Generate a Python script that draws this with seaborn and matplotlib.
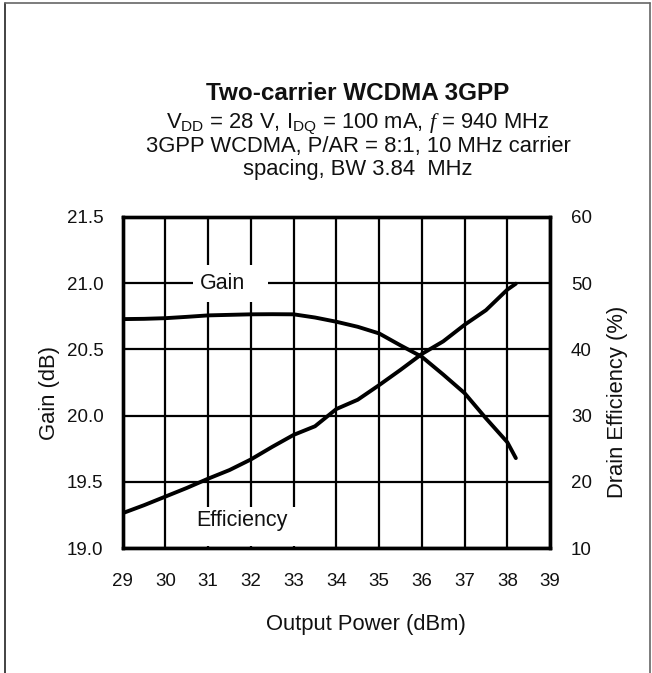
#!/usr/bin/env python3
"""
Two-carrier WCDMA 3GPP: gain and drain efficiency vs output power
"""

import numpy as np
import pandas as pd
import matplotlib
matplotlib.use("Agg")
import matplotlib.pyplot as plt
from matplotlib.lines import Line2D
import seaborn as sns

# Values
power_dbm = [29.0, 29.5, 30.0, 30.5, 31.0, 31.5, 32.0, 32.5, 33.0, 33.5,
             34.0, 34.5, 35.0, 35.5, 36.0, 36.5, 37.0, 37.5, 38.0, 38.2]
gain_db = [20.728, 20.730, 20.735, 20.745, 20.756, 20.760, 20.764, 20.765, 20.764, 20.740,
           20.708, 20.670, 20.620, 20.530, 20.444, 20.310, 20.170, 19.980, 19.800, 19.680]
efficiency_pct = [15.3, 16.5, 17.8, 19.1, 20.5, 21.8, 23.4, 25.3, 27.1, 28.4,
                  31.0, 32.4, 34.6, 36.9, 39.3, 41.2, 43.7, 45.9, 49.0, 49.9]

x_ticks = [29, 30, 31, 32, 33, 34, 35, 36, 37, 38, 39]
gain_ticks = [19.0, 19.5, 20.0, 20.5, 21.0, 21.5]
eff_ticks = [10, 20, 30, 40, 50, 60]

title = "Two-carrier WCDMA 3GPP"
subtitle = [
    r"V$_{\mathregular{DD}}$ = 28 V, I$_{\mathregular{DQ}}$ = 100 mA, $f$ = 940 MHz",
    "3GPP WCDMA, P/AR = 8:1, 10 MHz carrier",
    "spacing, BW 3.84  MHz",
]

df = pd.DataFrame({"power": power_dbm, "gain": gain_db, "eff": efficiency_pct})

sns.set_theme(style="white")
plt.rcParams["font.family"] = ["Liberation Sans", "DejaVu Sans"]
plt.rcParams["mathtext.fontset"] = "custom"
plt.rcParams["mathtext.rm"] = "Liberation Sans"
plt.rcParams["mathtext.it"] = "Liberation Serif:italic"

fig = plt.figure(figsize=(6.52, 6.73), dpi=100)
ax = fig.add_axes([0.1882, 0.1853, 0.6554, 0.4927])
ax2 = ax.twinx()

# grid
ax.set_xlim(29, 39)
ax.set_ylim(19.0, 21.5)
ax.set_xticks(x_ticks)
ax.set_yticks(gain_ticks)
ax.set_xticklabels([str(t) for t in x_ticks])
ax.set_yticklabels([f"{t:.1f}" for t in gain_ticks])
ax.grid(True, color="black", linewidth=1.6)
ax.set_axisbelow(True)
ax2.set_ylim(10, 60)
ax2.set_yticks(eff_ticks)
ax2.set_yticklabels([str(t) for t in eff_ticks])
ax2.grid(False)

for a in (ax, ax2):
    for s in a.spines.values():
        s.set_linewidth(2.4)
        s.set_color("black")

ax.tick_params(axis="x", length=0, pad=18, labelsize=13.5, colors="#111111")
ax.tick_params(axis="y", length=0, pad=14, labelsize=13.5, colors="#111111")
ax2.tick_params(axis="y", length=0, pad=15, labelsize=13.5, colors="#111111")

# label boxes that blank out the grid
ax.add_patch(plt.Rectangle((30.65, 20.86), 1.76, 0.275, facecolor="white",
                           edgecolor="none", zorder=1.5))
ax.add_patch(plt.Rectangle((30.45, 19.02), 2.6, 0.29, facecolor="white",
                           edgecolor="none", zorder=1.5))

sns.lineplot(data=df, x="power", y="gain", ax=ax, color="black",
             linewidth=2.8, zorder=3)
sns.lineplot(data=df, x="power", y="eff", ax=ax2, color="black",
             linewidth=2.8, zorder=3)
ax.set_xlabel("")
ax.set_ylabel("")
ax2.set_ylabel("")

ax.text(31.34, 21.0, "Gain", fontsize=15.5, ha="center", va="center",
        color="#111111", zorder=4)
ax.text(31.78, 19.207, "Efficiency", fontsize=15.5, ha="center", va="center",
        color="#111111", zorder=4)

# titles and axis labels
cx = 0.549
fig.text(cx, 0.8614, title, fontsize=17.5, fontweight="bold", ha="center",
         va="center", color="#111111")
for yy, line in zip([0.8168, 0.782, 0.7474], subtitle):
    fig.text(cx, yy, line, fontsize=15.8, ha="center", va="center", color="#111111")

fig.text(0.5613, 0.0728, "Output Power (dBm)", fontsize=15.8, ha="center",
         va="center", color="#111111")
fig.text(50 / 652, 1 - 393.5 / 673, "Gain (dB)", fontsize=15.8, rotation=90,
         ha="center", va="center", color="#111111")
fig.text(617 / 652, 1 - 402 / 673, "Drain Efficiency (%)", fontsize=15.8,
         rotation=90, ha="center", va="center", color="#111111")

# outer frame (open at the bottom)
fig.add_artist(Line2D([5 / 652, 5 / 652], [0, 1 - 2.7 / 673],
                      transform=fig.transFigure, color="#222222", linewidth=1.2))
fig.add_artist(Line2D([5 / 652, 650 / 652], [1 - 2.7 / 673, 1 - 2.7 / 673],
                      transform=fig.transFigure, color="#666666", linewidth=1.2))
fig.add_artist(Line2D([650 / 652, 650 / 652], [0, 1 - 2.7 / 673],
                      transform=fig.transFigure, color="#666666", linewidth=1.2))

fig.savefig("out.png", dpi=100)
